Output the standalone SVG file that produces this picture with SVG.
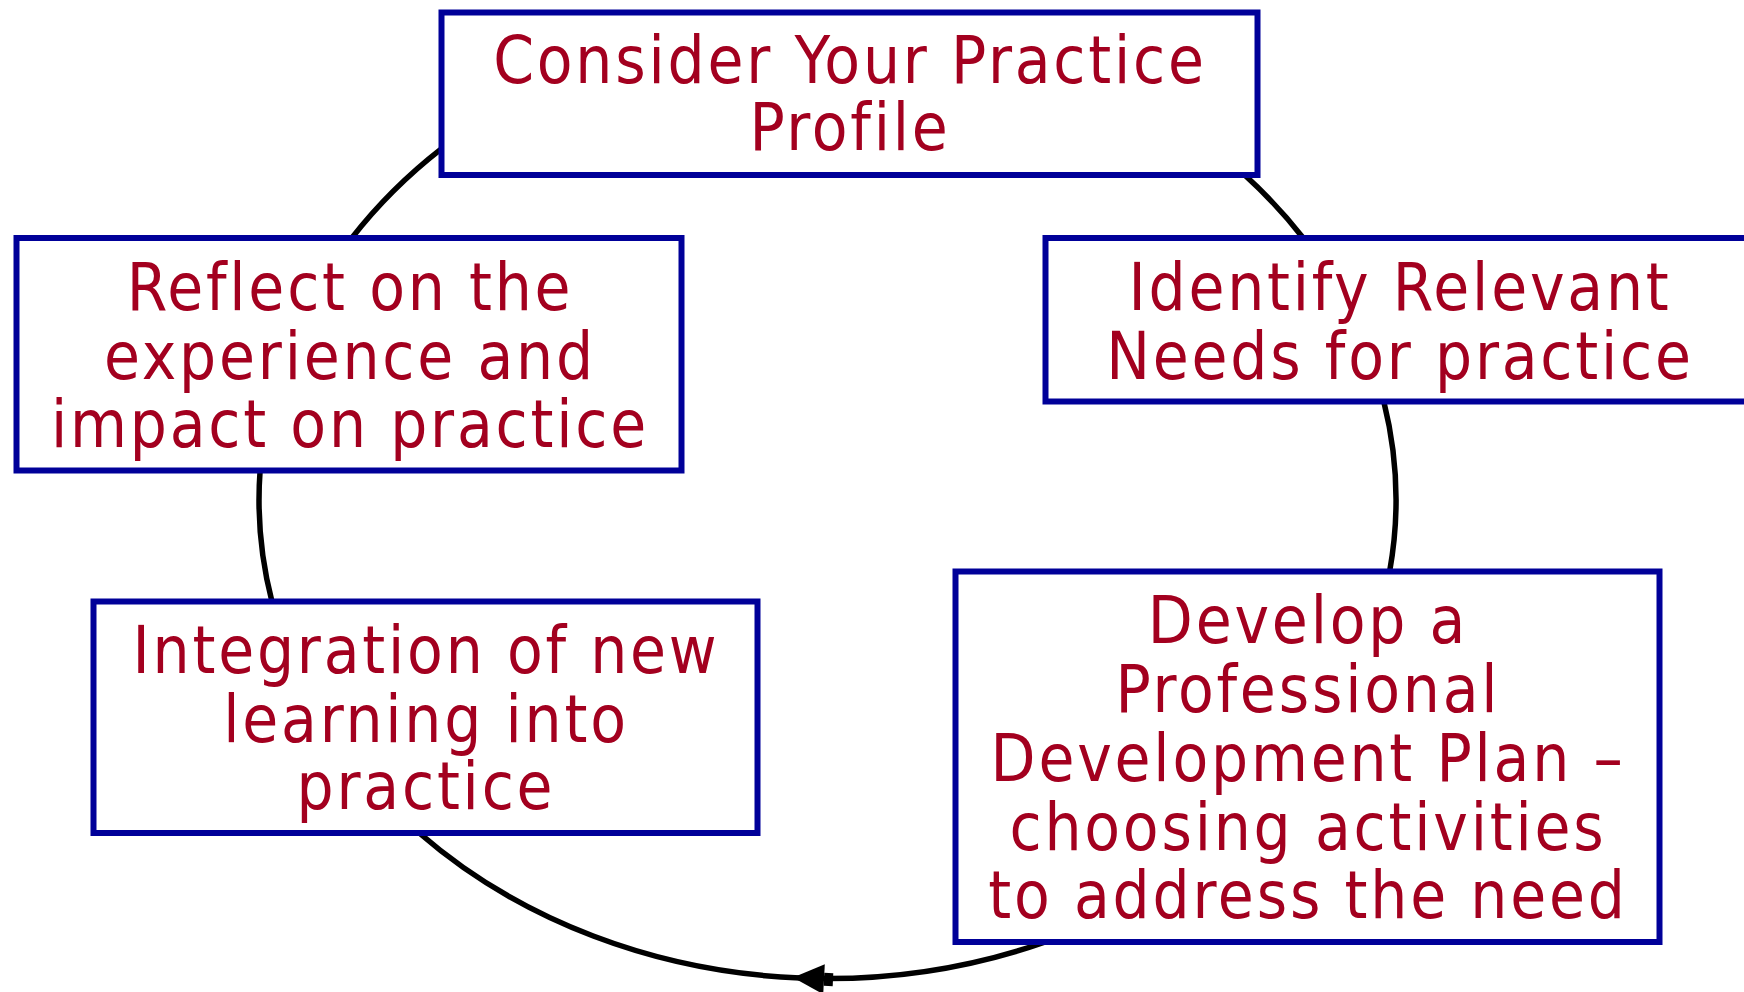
<svg xmlns="http://www.w3.org/2000/svg" width="1744" height="992" viewBox="0 0 1744 992">
<style>
.box{fill:#fff;stroke:#000099;stroke-width:6}
.lbl{font-family:"DejaVu Sans Condensed","DejaVu Sans",sans-serif;font-stretch:condensed;font-size:65px;fill:#A3001F;text-anchor:middle;letter-spacing:2.8px}
.arc{fill:none;stroke:#000;stroke-width:5.5}
.head{fill:#000;stroke:none}
</style>
<g id="connectors">
<path class="arc" d="M1244.7 175 A568.5 478.5 0 0 1 1303.2 238"/>
<path class="arc" d="M1383.8 401.5 A568.5 478.5 0 0 1 1389.6 571.7"/>
<path class="arc" d="M1045.3 942 A568.5 478.5 0 0 1 800 978"/>
<path class="arc" d="M800 978 A568.5 478.5 0 0 1 419.3 833"/>
<path class="arc" d="M272 601.7 A568.5 478.5 0 0 1 260.1 470.5"/>
<path class="arc" d="M351.8 238 A568.5 478.5 0 0 1 441.6 148.6"/>
<path class="head" d="M793 977.6 L824.8 964.2 L823.2 994.2 Z"/>
<path class="head" d="M824.3 972.7 L833.3 973.2 L832.7 986.2 L823.7 985.7 Z"/>
</g>
<g id="node-consider">
<rect class="box" x="441.5" y="12.5" width="816" height="162.5"/>
<text class="lbl" x="850" y="83">Consider Your Practice</text>
<text class="lbl" x="850" y="150">Profile</text>
</g>
<g id="node-identify">
<rect class="box" x="1045.5" y="238" width="710" height="163.5"/>
<text class="lbl" x="1400" y="310">Identify Relevant</text>
<text class="lbl" x="1400" y="379">Needs for practice</text>
</g>
<g id="node-develop">
<rect class="box" x="955.5" y="571.5" width="704" height="370.5"/>
<text class="lbl" x="1308" y="643">Develop a</text>
<text class="lbl" x="1308" y="712">Professional</text>
<text class="lbl" x="1308" y="781">Development Plan –</text>
<text class="lbl" x="1308" y="850">choosing activities</text>
<text class="lbl" x="1308" y="918">to address the need</text>
</g>
<g id="node-integration">
<rect class="box" x="93.5" y="601.5" width="664" height="231.5"/>
<text class="lbl" x="426" y="673">Integration of new</text>
<text class="lbl" x="426" y="742">learning into</text>
<text class="lbl" x="426" y="809">practice</text>
</g>
<g id="node-reflect">
<rect class="box" x="16.5" y="238" width="665" height="232.5"/>
<text class="lbl" x="350" y="310">Reflect on the</text>
<text class="lbl" x="350" y="379">experience and</text>
<text class="lbl" x="350" y="447">impact on practice</text>
</g>
</svg>
